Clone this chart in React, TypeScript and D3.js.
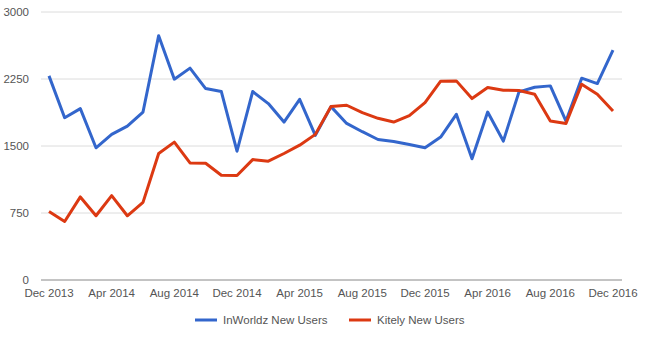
import React from "react";
import * as d3 from "d3";

const months: string[] = (() => {
  const names = ["Jan","Feb","Mar","Apr","May","Jun","Jul","Aug","Sep","Oct","Nov","Dec"];
  const out: string[] = ["Dec 2013"];
  for (const y of [2014, 2015, 2016]) for (const n of names) out.push(`${n} ${y}`);
  return out;
})();

const inworldz = [2285, 1817, 1918, 1480, 1630, 1723, 1880, 2735, 2248, 2372, 2143, 2110, 1442, 2110, 1975, 1768, 2023, 1619, 1941, 1753, 1660, 1573, 1551, 1517, 1480, 1600, 1855, 1357, 1880, 1555, 2106, 2158, 2173, 1779, 2259, 2199, 2574];
const kitely = [768, 655, 930, 719, 944, 719, 869, 1416, 1543, 1311, 1307, 1172, 1169, 1348, 1330, 1416, 1509, 1630, 1941, 1956, 1873, 1810, 1768, 1840, 1986, 2225, 2229, 2031, 2155, 2124, 2121, 2079, 1779, 1753, 2192, 2079, 1892];

const yTicks = [0, 750, 1500, 2250, 3000];
const xTickLabels = ["Dec 2013", "Apr 2014", "Aug 2014", "Dec 2014", "Apr 2015", "Aug 2015", "Dec 2015", "Apr 2016", "Aug 2016", "Dec 2016"];
const seriesNames = ["InWorldz New Users", "Kitely New Users"];
const colors = ["#3366cc", "#dc3912"];

export default function App() {
  const W = 653, H = 350;
  const x = d3.scaleLinear().domain([0, months.length - 1]).range([49, 613]);
  const y = d3.scaleLinear().domain([0, 3000]).range([280, 12]);
  const line = d3.line<number>().x((_, i) => x(i)).y((d) => y(d));
  const font = "Arial, 'Liberation Sans', sans-serif";
  const series = [inworldz, kitely];
  return (
    <svg width={W} height={H} style={{ position: "absolute", left: 0, top: 0 }} fontFamily={font}>
      <rect width={W} height={H} fill="#fff" />
      {yTicks.map((t) => (
        <g key={t}>
          <line x1={41} x2={622} y1={y(t)} y2={y(t)} stroke={t === 0 ? "#888" : "#dcdcdc"} strokeWidth={1} />
          <text x={29} y={y(t)} dy="0.35em" textAnchor="end" fontSize={11.5} fill="#555">{t}</text>
        </g>
      ))}
      {xTickLabels.map((lbl) => (
        <text key={lbl} x={x(months.indexOf(lbl))} y={297} textAnchor="middle" fontSize={11.5} fill="#555">{lbl}</text>
      ))}
      {series.map((s, i) => (
        <path key={i} d={line(s) || ""} fill="none" stroke={colors[i]} strokeWidth={3} strokeLinejoin="round" />
      ))}
      {[0, 1].map((i) => {
        const lx = [195, 349][i];
        return (
          <g key={i}>
            <line x1={lx} x2={lx + 22} y1={320} y2={320} stroke={colors[i]} strokeWidth={3} />
            <text x={lx + 28} y={320} dy="0.35em" fontSize={11.5} fill="#555">{seriesNames[i]}</text>
          </g>
        );
      })}
    </svg>
  );
}
